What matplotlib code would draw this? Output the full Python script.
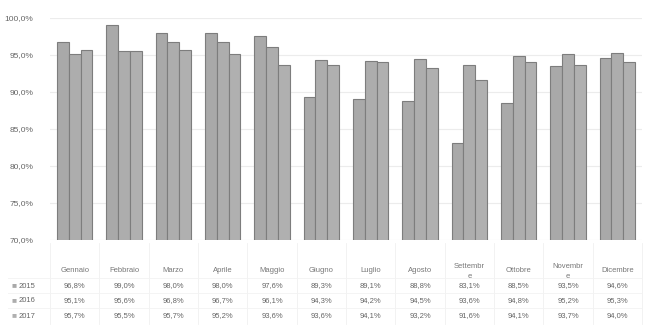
import matplotlib
matplotlib.use('Agg')
import matplotlib.pyplot as plt
import matplotlib.transforms as mtransforms
from matplotlib.ticker import FuncFormatter
import numpy as np

months = ['Gennaio', 'Febbraio', 'Marzo', 'Aprile', 'Maggio', 'Giugno',
          'Luglio', 'Agosto', 'Settembr\ne', 'Ottobre', 'Novembr\ne', 'Dicembre']
years = ['2015', '2016', '2017']
v2015 = [96.8, 99.0, 98.0, 98.0, 97.6, 89.3, 89.1, 88.8, 83.1, 88.5, 93.5, 94.6]
v2016 = [95.1, 95.6, 96.8, 96.7, 96.1, 94.3, 94.2, 94.5, 93.6, 94.8, 95.2, 95.3]
v2017 = [95.7, 95.5, 95.7, 95.2, 93.6, 93.6, 94.1, 93.2, 91.6, 94.1, 93.7, 94.0]
series = [v2015, v2016, v2017]

plt.rcParams['font.family'] = ['Liberation Sans', 'DejaVu Sans']

fig = plt.figure(figsize=(6.45, 3.28), dpi=100)
ax = fig.add_axes([50 / 645, 1 - 240 / 328, 592 / 645, 222 / 328])

x = np.arange(len(months))
width = 0.24
fills = ['#a9a9a9', '#adadad', '#b0b0b0']
for i, vals in enumerate(series):
    ax.bar(x + (i - 1) * width, vals, width, bottom=0, color=fills[i],
           edgecolor='#7d7d7d', linewidth=0.8, zorder=3)

ax.set_xlim(-0.5, len(months) - 0.5)
ax.set_ylim(70, 100)
ax.set_yticks(np.arange(70, 101, 5))
ax.yaxis.set_major_formatter(FuncFormatter(lambda v, pos: f'{v:.1f}%'.replace('.', ',')))
ax.tick_params(axis='y', labelsize=6, colors='#666666', length=0, pad=12)
ax.set_xticks([])
ax.grid(axis='y', color='#ececec', linewidth=0.8, zorder=0)
for s in ax.spines.values():
    s.set_visible(False)

# data table under the plot
trans = mtransforms.blended_transform_factory(ax.transData, fig.transFigure)
def fy(py):
    return 1 - py / 328

for j, m in enumerate(months):
    ax.text(j, fy(271), m, transform=trans, ha='center', va='center',
            fontsize=5.5, color='#777777', linespacing=1.6, clip_on=False)
row_y = [286, 301, 316]
for i, (yr, vals) in enumerate(zip(years, series)):
    fig.text(14 / 645, fy(row_y[i]), '\u25a0', ha='center', va='center',
             fontsize=6, color=fills[i])
    fig.text(19 / 645, fy(row_y[i]), yr, ha='left', va='center',
             fontsize=5.5, color='#666666')
    for j, v in enumerate(vals):
        ax.text(j, fy(row_y[i]), f'{v:.1f}%'.replace('.', ','), transform=trans,
                ha='center', va='center', fontsize=5.5, color='#666666', clip_on=False)

# faint table borders
for j in range(len(months) + 1):
    ax.plot([j - 0.5, j - 0.5], [fy(243), fy(324)], transform=trans,
            color='#f0f0f0', linewidth=0.6, clip_on=False)
for py in [278, 293, 308]:
    fig.add_artist(plt.Line2D([8 / 645, 642 / 645], [fy(py), fy(py)],
                              color='#f2f2f2', linewidth=0.6))

fig.savefig('out.png', dpi=100, facecolor='white')
